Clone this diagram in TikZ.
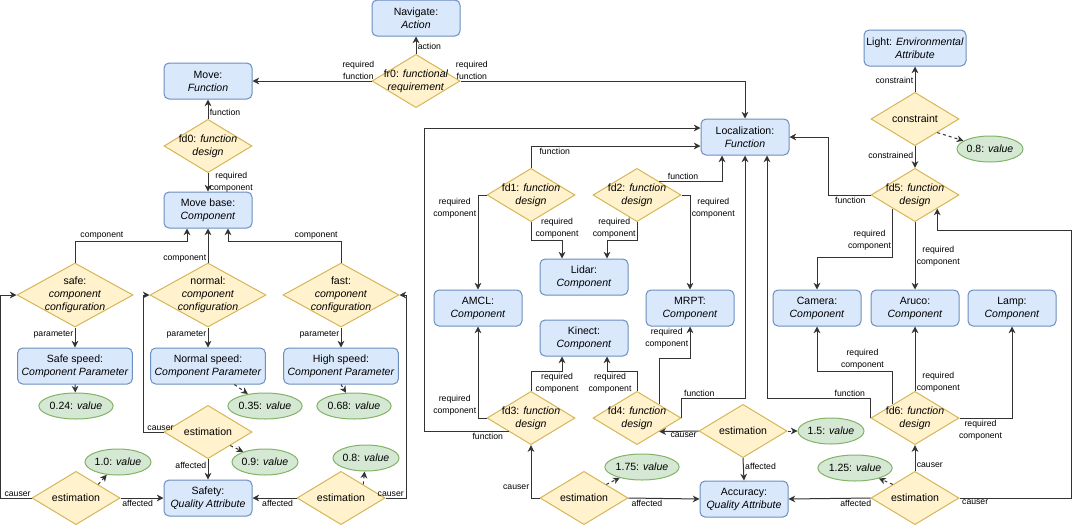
\documentclass[tikz,border=0pt]{standalone}
\usepackage{fontspec}
\setmainfont{Liberation Sans}
\usetikzlibrary{shapes.geometric,arrows.meta,calc}

\definecolor{boxfill}{HTML}{DAE8FC}
\definecolor{boxline}{HTML}{6C8EBF}
\definecolor{diafill}{HTML}{FFF2CC}
\definecolor{dialine}{HTML}{D6B656}
\definecolor{valfill}{HTML}{D5E8D4}
\definecolor{valline}{HTML}{82B366}
\definecolor{edgecol}{HTML}{333333}

\tikzset{
  box/.style={draw=boxline, fill=boxfill, line width=0.75pt, rounded corners=3.75pt,
    minimum width=66pt, minimum height=27pt, inner sep=1pt, align=center,
    font=\fontsize{7.9}{9.8}\selectfont},
  parbox/.style={box, minimum width=86pt},
  dtext/.style={align=center, inner sep=0pt, font=\fontsize{7.9}{9.8}\selectfont},
  dia/.style={diamond, draw=dialine, fill=diafill, line width=0.75pt,
    minimum width=66pt, minimum height=40pt, inner sep=0pt,
    label={[dtext]center:{#1}}},
  bigdia/.style={dia=#1, minimum width=87pt, minimum height=48pt},
  val/.style={ellipse, draw=valline, fill=valfill, line width=0.75pt,
    minimum width=46.5pt, minimum height=19.5pt, inner sep=0pt,
    font=\fontsize{7.9}{9.8}\selectfont},
  lbl/.style={align=center, inner sep=1pt, font=\fontsize{6.5}{9}\selectfont},
  arr/.style={draw=edgecol, line width=0.75pt, -{Stealth[length=5pt,width=5pt,inset=1.5pt]}},
  dasharr/.style={arr, dash pattern=on 2.25pt off 2.25pt}
}

\begin{document}
\begin{tikzpicture}[x=0.75pt,y=0.75pt,yscale=-1]
\useasboundingbox (0,0) rectangle (1072,526);

% Action and requirement
\node[box] (nav) at (416,18) {Navigate:\\\textit{Action}};
\node[dia={fr0: \textit{functional}\\\textit{requirement}}] (fr0) at (416,81) {};

% Move branch
\node[box] (move) at (208,81) {Move:\\\textit{Function}};
\node[dia={fd0: \textit{function}\\\textit{design}}] (fd0) at (208,146) {};
\node[box] (base) at (208,210) {Move base:\\\textit{Component}};

\node[bigdia={safe:\\\textit{component}\\\textit{configuration}}] (safe) at (75,295) {};
\node[bigdia={normal:\\\textit{component}\\\textit{configuration}}] (normal) at (208,295) {};
\node[bigdia={fast:\\\textit{component}\\\textit{configuration}}] (fast) at (341,295) {};

\node[parbox] (sspeed) at (75,366) {Safe speed:\\\textit{Component Parameter}};
\node[parbox] (nspeed) at (208,366) {Normal speed:\\\textit{Component Parameter}};
\node[parbox] (hspeed) at (341,366) {High speed:\\\textit{Component Parameter}};

\node[val] (v024) at (76,406) {0.24: \textit{value}};
\node[val] (v035) at (265,406) {0.35: \textit{value}};
\node[val] (v068) at (354,406) {0.68: \textit{value}};

\node[dia=estimation] (estn) at (208,432) {};
\node[dia=estimation] (ests) at (76,498) {};
\node[dia=estimation] (estf) at (341,498) {};
\node[val] (v09) at (265,462) {0.9: \textit{value}};
\node[val] (v10) at (118,462) {1.0: \textit{value}};
\node[val] (v08) at (366,458) {0.8: \textit{value}};
\node[box] (safety) at (208,498) {Safety:\\\textit{Quality Attribute}};

% Localization branch
\node[box] (loc) at (745,137) {Localization:\\\textit{Function}};
\node[box, minimum width=76.5pt] (light) at (915,48) {Light: \textit{Environmental}\\\textit{Attribute}};
\node[dia=constraint] (cons) at (915,119) {};
\node[val] (vcons) at (990,149) {0.8: \textit{value}};

\node[dia={fd1: \textit{function}\\\textit{design}}] (fd1) at (531,195) {};
\node[dia={fd2: \textit{function}\\\textit{design}}] (fd2) at (637,195) {};
\node[dia={fd5: \textit{function}\\\textit{design}}] (fd5) at (915,195) {};
\node[dia={fd3: \textit{function}\\\textit{design}}] (fd3) at (531,418) {};
\node[dia={fd4: \textit{function}\\\textit{design}}] (fd4) at (637,418) {};
\node[dia={fd6: \textit{function}\\\textit{design}}] (fd6) at (915,418) {};

\node[box] (lidar) at (584,277) {Lidar:\\\textit{Component}};
\node[box] (amcl) at (478,308) {AMCL:\\\textit{Component}};
\node[box] (mrpt) at (690,308) {MRPT:\\\textit{Component}};
\node[box] (kinect) at (584,338) {Kinect:\\\textit{Component}};
\node[box] (camera) at (817,308) {Camera:\\\textit{Component}};
\node[box] (aruco) at (915,308) {Aruco:\\\textit{Component}};
\node[box] (lamp) at (1012,308) {Lamp:\\\textit{Component}};

\node[dia=estimation] (estm) at (743,431) {};
\node[dia=estimation] (estb) at (584,498) {};
\node[dia=estimation] (estr) at (915,498) {};
\node[val] (v15) at (831,431) {1.5: \textit{value}};
\node[val] (v175) at (642,467) {1.75: \textit{value}};
\node[val] (v125) at (855,468) {1.25: \textit{value}};
\node[box] (acc) at (744,499) {Accuracy:\\\textit{Quality Attribute}};

% Requirement edges
\draw[arr] (fr0.north) -- node[lbl, right, pos=0.45] {action} (nav.south);
\draw[arr] (fr0.west) -- node[lbl, above, pos=0.11] {required\\function} (move.east);
\draw[arr] (fr0.east) -| node[lbl, above, pos=0.02] {required\\function} (loc.north);

% Move edges
\draw[arr] (fd0.north) -- node[lbl, right, pos=0.35] {function} (move.south);
\draw[arr] (fd0.south) -- node[lbl, right] {required\\component} (base.north);
\draw[arr] (safe.north) -- ++(0,-21) -| node[lbl, above, pos=0.12] {component} ($(base.south)+(-21,0)$);
\draw[arr] (normal.north) -- node[lbl, left, pos=0.12] {component} (base.south);
\draw[arr] (fast.north) -- ++(0,-21) -| node[lbl, above, pos=0.11] {component} ($(base.south)+(20,0)$);
\draw[arr] (safe.south) -- node[lbl, left, pos=0.35] {parameter} (sspeed.north);
\draw[arr] (normal.south) -- node[lbl, left, pos=0.35] {parameter} (nspeed.north);
\draw[arr] (fast.south) -- node[lbl, left, pos=0.35] {parameter} (hspeed.north);
\draw[dasharr] (sspeed.south) -- (v024);
\draw[dasharr] (nspeed) -- (v035);
\draw[dasharr] (hspeed.south) -- (v068);

% Safety estimations
\draw[arr] (estn.west) -- node[lbl, above, pos=0.15] {causer} ++(-20,0) |- (normal.west);
\draw[arr] (estn.south) -- node[lbl, left, pos=0.3] {affected} (safety.north);
\draw[dasharr] (estn.south east) -- (v09);
\draw[arr] (ests.west) -- node[lbl, above, pos=0.45] {causer} ++(-31,0) |- (safe.west);
\draw[arr] (ests.east) -- node[lbl, below, pos=0.4] {affected} (safety.west);
\draw[dasharr] (ests.north east) -- (v10);
\draw[arr] (estf.east) -- node[lbl, above, pos=0.25] {causer} ++(21,0) |- (fast.east);
\draw[arr] (estf.west) -- node[lbl, below, pos=0.43] {affected} (safety.east);
\draw[dasharr] (estf.north east) -- (v08);

% Constraint
\draw[arr] (cons.north) -- node[lbl, left, pos=0.44] {constraint} (light.south);
\draw[arr] (cons.south) -- node[lbl, left, pos=0.41] {constrained} (fd5.north);
\draw[dasharr] (cons.south east) -- (vcons);

% Localization function edges
\draw[arr] (fd1.north) |- node[lbl, below, pos=0.57] {function} ($(loc.west)+(0,9)$);
\draw[arr] (fd2.north east) -| node[lbl, above, pos=0.19] {function} ($(loc.south)+(-23,0)$);
\draw[arr] (fd3.south west) -- node[lbl, below, pos=0.25] {function} ++(-84,0) |- ($(loc.west)+(0,-9)$);
\draw[arr] (fd4.east) -- ++(0,-20) -| node[lbl, above, pos=0.14] {function} (loc.south);
\draw[arr] (fd5.west) -- node[lbl, below, pos=0.48] {function} ++(-42,0) |- (loc.east);
\draw[arr] (fd6.west) -- ++(0,-20) -| node[lbl, above, pos=0.1] {function} ($(loc.south)+(22,0)$);

% Required components
\draw[arr] (fd1.west) -| node[lbl, left, pos=0.57] {required\\component} (amcl.north);
\draw[arr] (fd1.south) -- ++(0,18) -| node[lbl, above, pos=0.42] {required\\component} ($(lidar.north)+(-22,0)$);
\draw[arr] (fd2.south) -- ++(0,18) -| node[lbl, above, pos=0.38] {required\\component} ($(lidar.north)+(23,0)$);
\draw[arr] (fd2.east) -| node[lbl, right, pos=0.57] {required\\component} (mrpt.north);
\draw[arr] (fd3.west) -| node[lbl, left, pos=0.57] {required\\component} (amcl.south);
\draw[arr] (fd3.north) -- ++(0,-19) -| node[lbl, below, pos=0.42] {required\\component} ($(kinect.south)+(-22,0)$);
\draw[arr] (fd4.north) -- ++(0,-19) -| node[lbl, below, pos=0.45] {required\\component} ($(kinect.south)+(23,0)$);
\draw[arr] (fd4.north east) -- ++(0,-46) -| node[lbl, left, pos=0.82] {required\\component} (mrpt.south);
\draw[arr] (fd5.south west) -- node[lbl, left, pos=0.65] {required\\component} ++(0,48.5) -| (camera.north);
\draw[arr] (fd5.south) -- node[lbl, right, pos=0.5] {required\\component} (aruco.north);
\draw[arr] (fd6.north west) -- ++(0,-33) -| node[lbl, above, pos=0.2] {required\\component} (camera.south);
\draw[arr] (fd6.north) -- node[lbl, right, pos=0.14] {required\\component} (aruco.south);
\draw[arr] (fd6.east) -| node[lbl, below, pos=0.2] {required\\component} (lamp.south);

% Accuracy estimations
\draw[arr] (estm.west) -- node[lbl, below, pos=0.38] {causer} (fd4.south east);
\draw[arr] (estm.south) -- node[lbl, right, pos=0.35] {affected} (acc.north);
\draw[dasharr] (estm.east) -- (v15);
\draw[arr] (estb.west) -| node[lbl, left, pos=0.6] {causer} (fd3.south);
\draw[arr] (estb.east) -- node[lbl, below, pos=0.26] {affected} (acc.west);
\draw[dasharr] (estb.north east) -- (v175);
\draw[arr] (estr.north) -- node[lbl, right, pos=0.22] {causer} (fd6.south);
\draw[arr] (estr.west) -- node[lbl, below, pos=0.18] {affected} (acc.east);
\draw[dasharr] (estr.north west) -- (v125);
\draw[arr] (estr.east) -- node[lbl, below, pos=0.14] {causer} ++(112,0) |- ($(fd5.south east)+(0,22)$) -- (fd5.south east);

\end{tikzpicture}
\end{document}
